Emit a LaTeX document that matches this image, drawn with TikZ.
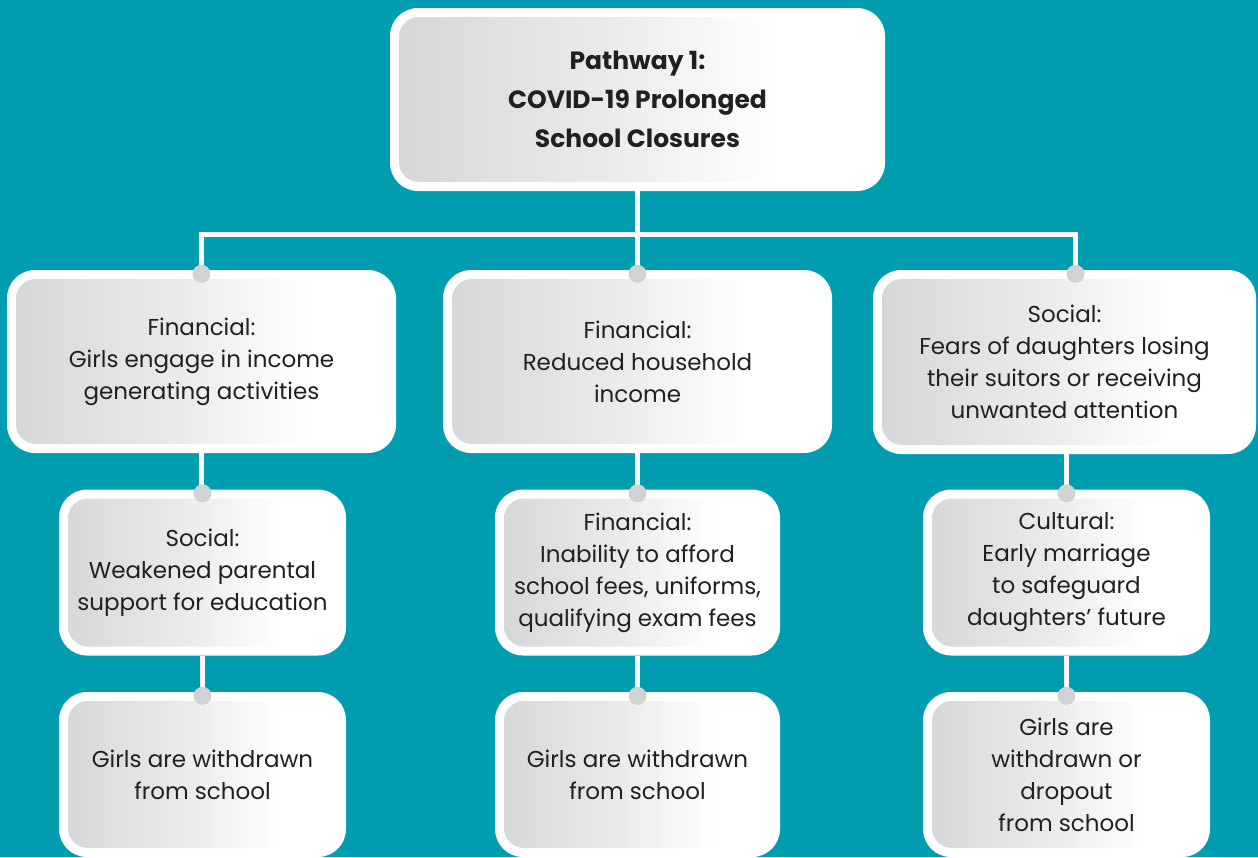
\documentclass[tikz,border=0pt]{standalone}
\usepackage{fontspec}
\setmainfont{Poppins}
\usetikzlibrary{calc}
\definecolor{bg}{HTML}{009CAF}
\definecolor{boxgray}{HTML}{D5D6D8}
\definecolor{dotgray}{HTML}{D1D2D4}
\definecolor{txt}{HTML}{231F20}
\pgfdeclarehorizontalshading{boxgrad}{100bp}{color(0bp)=(boxgray); color(25bp)=(boxgray); color(47bp)=(boxgray!50!white); color(64bp)=(white); color(100bp)=(white)}
\tikzset{
  box/.style={fill=white, rounded corners=28pt, inner sep=0pt, align=center, text=txt,
    font=\fontsize{23}{32}\selectfont,
    path picture={\shade[shading=boxgrad, rounded corners=20pt]
      ([shift={(9pt,-9pt)}]path picture bounding box.north west) rectangle
      ([shift={(-9pt,9pt)}]path picture bounding box.south east);}},
  conn/.style={draw=white, line width=5pt},
  dot/.style={circle, fill=dotgray, minimum size=18pt, inner sep=0pt},
}
\begin{document}
\begin{tikzpicture}[x=1pt,y=-1pt]
\fill[bg] (0,0) rectangle (1258,857);
\useasboundingbox (0,0) rectangle (1258,857);
\node[box, minimum width=495pt, minimum height=183pt, font=\bfseries\fontsize{25}{39}\selectfont] (t) at (637.5,99.5) {Pathway 1:\\COVID-19 Prolonged\\School Closures};
\node[box, minimum width=389pt, minimum height=183pt] (a) at (201.5,361.5) {Financial:\\Girls engage in income\\generating activities};
\node[box, minimum width=389pt, minimum height=183pt] (b) at (637.5,361.5) {Financial:\\Reduced household\\income};
\node[box, minimum width=383pt, minimum height=184pt] (c) at (1064.5,362) {Social:\\Fears of daughters losing\\their suitors or receiving\\unwanted attention};
\node[box, minimum width=287pt, minimum height=166pt] (d) at (202.5,572.5) {Social:\\Weakened parental\\support for education};
\node[box, minimum width=285pt, minimum height=166pt] (e) at (637.5,572.5) {Financial:\\Inability to afford\\school fees, uniforms,\\qualifying exam fees};
\node[box, minimum width=287pt, minimum height=166pt] (f) at (1066.5,572.5) {Cultural:\\Early marriage\\to safeguard\\daughters' future};
\node[box, minimum width=287pt, minimum height=165pt] (g) at (202.5,774.5) {Girls are withdrawn\\from school};
\node[box, minimum width=285pt, minimum height=165pt] (h) at (637.5,774.5) {Girls are withdrawn\\from school};
\node[box, minimum width=287pt, minimum height=165pt] (i) at (1066.5,774.5) {Girls are\\withdrawn or\\dropout\\from school};
\coordinate (bus) at (637.5,234.5);
\coordinate (cN) at ([xshift=11pt]c.north);
\draw[conn] (t.south) -- (bus);
\draw[conn] (a.north) |- (bus) -| (cN);
\draw[conn] (bus) -- (b.north);
\draw[conn] (a.south) -- (a.south |- d.north);
\draw[conn] (b.south) -- (e.north);
\draw[conn] (f.north |- c.south) -- (f.north);
\draw[conn] (d.south) -- (g.north);
\draw[conn] (e.south) -- (h.north);
\draw[conn] (f.south) -- (i.north);
\node[dot] (da) at ([yshift=-4pt]a.north) {};
\node[dot] (db) at ([yshift=-4pt]b.north) {};
\node[dot] (dc) at ([yshift=-4pt]cN) {};
\node[dot] (dd) at ([yshift=-4pt]d.north) {};
\node[dot] (de) at ([yshift=-4pt]e.north) {};
\node[dot] (df) at ([yshift=-4pt]f.north) {};
\node[dot] (dg) at ([yshift=-4pt]g.north) {};
\node[dot] (dh) at ([yshift=-4pt]h.north) {};
\node[dot] (di) at ([yshift=-4pt]i.north) {};
\end{tikzpicture}
\end{document}
